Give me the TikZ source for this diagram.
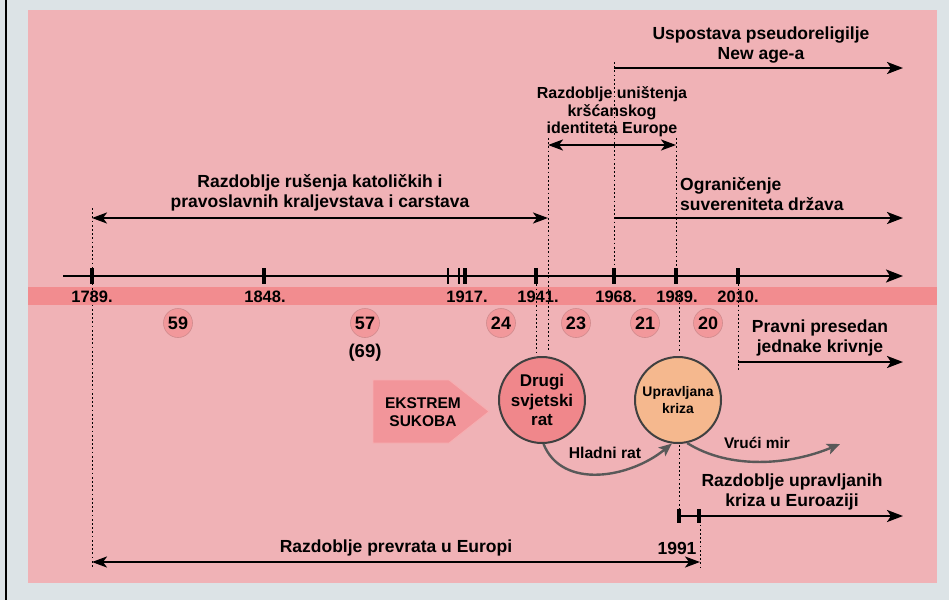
\documentclass[tikz,border=0pt]{standalone}
\usepackage{fontspec}
\setmainfont{Liberation Sans}
\usetikzlibrary{arrows.meta}
\definecolor{bgc}{HTML}{DCE3E6}
\definecolor{panel}{HTML}{F0B2B6}
\definecolor{band}{HTML}{F28C8F}
\definecolor{numfill}{HTML}{F2989B}
\definecolor{numline}{HTML}{D08A8D}
\definecolor{warfill}{HTML}{F0878B}
\definecolor{crisisfill}{HTML}{F5B88E}
\definecolor{ekfill}{HTML}{F2959A}
\definecolor{ekline}{HTML}{F7AEB1}
\definecolor{curvec}{HTML}{595959}
\begin{document}
\begin{tikzpicture}[x=1pt,y=-1pt,
  lbl/.style={font=\bfseries\fontsize{17.5}{20}\selectfont, align=center, inner sep=0pt},
  lbls/.style={font=\bfseries\fontsize{16}{17.5}\selectfont, align=center, inner sep=0pt},
  yr/.style={font=\bfseries\fontsize{16.5}{18}\selectfont, inner sep=0pt},
  num/.style={circle, minimum size=29pt, inner sep=0pt, fill=numfill, draw=numline, line width=0.6pt, font=\bfseries\fontsize{18}{19}\selectfont},
  bigc/.style={circle, minimum size=86pt, inner sep=0pt, draw=black!75, line width=2pt, align=center},
  axisline/.style={line width=2pt, -{Stealth[length=17pt,width=13pt,inset=4pt]}},
  rarr/.style={line width=2.3pt, -{Stealth[length=16pt,width=12pt,inset=4pt]}},
  darr/.style={line width=2.3pt, {Stealth[length=15pt,width=11pt,inset=4pt]}-{Stealth[length=15pt,width=11pt,inset=4pt]}},
  dots/.style={line width=1pt, dash pattern=on 1.8pt off 2.4pt},
  garr/.style={line width=2.4pt, draw=curvec, -{Stealth[length=13pt,width=11pt,inset=3pt]}},
  tickm/.style={fill=black}
]
\useasboundingbox (0,0) rectangle (949,600);
\fill[bgc] (0,0) rectangle (949,600);
\fill[panel] (28,10) rectangle (937,583);
\draw[line width=2pt] (6,0) -- (6,600);
\fill[band] (28,287) rectangle (937,305);

% dotted guide lines
\coordinate (g1a) at (92,208);  \coordinate (g1b) at (92,568);
\coordinate (g2a) at (548,138); \coordinate (g2b) at (548,352);
\coordinate (g3a) at (536,276); \coordinate (g3b) at (536,352);
\coordinate (g4a) at (614,62);  \coordinate (g4b) at (614,276);
\coordinate (g5a) at (676,138); \coordinate (g5b) at (676,276);
\coordinate (g6a) at (679,290); \coordinate (g6b) at (679,352);
\coordinate (g7a) at (679,445); \coordinate (g7b) at (679,512);
\coordinate (g8a) at (700,512); \coordinate (g8b) at (700,568);
\coordinate (g9a) at (738,276); \coordinate (g9b) at (738,370);
\foreach \i in {1,...,9} {\draw[dots] (g\i a) -- (g\i b);}

% main axis
\coordinate (axS) at (63,276);
\coordinate (axE) at (903,276);
\draw[axisline] (axS) -- (axE);
\foreach \x in {92,264,465,536,614,676,738} {\fill[tickm] (\x-2.2,268) rectangle (\x+2.2,284);}
\foreach \x in {448,459} {\fill[tickm] (\x-0.8,268) rectangle (\x+0.8,284);}

% years
\node[yr] (y1789) at (92,297) {1789.};
\node[yr] (y1848) at (265,297) {1848.};
\node[yr] (y1917) at (467,297) {1917.};
\node[yr] (y1941) at (538,297) {1941.};
\node[yr] (y1968) at (616,297) {1968.};
\node[yr] (y1989) at (677,297) {1989.};
\node[yr] (y2010) at (738,297) {2010.};

% number circles
\node[num] (n59) at (178,323) {59};
\node[num] (n57) at (365,323) {57};
\node[font=\bfseries\fontsize{18.5}{19}\selectfont, inner sep=0pt] (n69) at (365,353) {(69)};
\node[num] (n24) at (501,323) {24};
\node[num] (n23) at (576,323) {23};
\node[num] (n21) at (645,323) {21};
\node[num] (n20) at (708,323) {20};

% top arrows and labels
\node[lbl] (tUsp) at (761,45) {Uspostava pseudoreligilje\\New age-a};
\coordinate (uA) at (614,68); \coordinate (uB) at (903,68);
\draw[rarr] (uA) -- (uB);

\node[lbls] (tUni) at (612,112) {Razdoblje uništenja\\kršćanskog\\identiteta Europe};
\coordinate (kA) at (548,145); \coordinate (kB) at (676,145);
\draw[darr] (kA) -- (kB);

\node[lbl] (tRus) at (320,193) {Razdoblje rušenja katoličkih i\\pravoslavnih kraljevstava i carstava};
\coordinate (rA) at (92,218); \coordinate (rB) at (548,218);
\draw[darr] (rA) -- (rB);

\node[lbl, align=left, anchor=west] (tOgr) at (680,194) {Ograničenje\\suvereniteta država};
\coordinate (oA) at (614,218); \coordinate (oB) at (903,218);
\draw[rarr] (oA) -- (oB);

\node[lbl] (tPra) at (820,338) {Pravni presedan\\jednake krivnje};
\coordinate (pA) at (738,362); \coordinate (pB) at (903,362);
\draw[rarr] (pA) -- (pB);

% ekstrem arrow shape
\draw[fill=ekfill, draw=ekline, line width=0.8pt] (373,380) -- (449,380) -- (489,411.5) -- (449,443) -- (373,443) -- cycle;
\node[font=\bfseries\fontsize{15.5}{18}\selectfont, align=center, inner sep=0pt] (ek) at (423,412) {EKSTREM\\SUKOBA};

% big circles
\node[bigc, fill=warfill, font=\bfseries\fontsize{17}{19.5}\selectfont] (ww2) at (542,400) {Drugi\\svjetski\\rat};
\node[bigc, fill=crisisfill, font=\bfseries\fontsize{13.9}{17}\selectfont] (uk) at (678,400) {Upravljana\\kriza};

% curves
\draw[garr] (ww2.272) .. controls (562,490) and (630,478) .. (uk.262);
\node[font=\bfseries\fontsize{15.7}{18}\selectfont, inner sep=0pt] (tHl) at (605,453) {Hladni rat};
\coordinate (vEnd) at (840,444);
\draw[garr] (uk.282) .. controls (730,470) and (790,465) .. (vEnd);
\node[font=\bfseries\fontsize{15.4}{18}\selectfont, inner sep=0pt] (tVm) at (757,443) {Vrući mir};

% euroazija
\node[lbl] (tEur) at (792,492) {Razdoblje upravljanih\\kriza u Euroaziji};
\coordinate (eA) at (679,516); \coordinate (eB) at (903,516);
\draw[rarr] (eA) -- (eB);
\foreach \x in {679,699} {\fill[tickm] (\x-2.2,509) rectangle (\x+2.2,523);}

% prevrat
\node[lbl] (tPrev) at (396,548) {Razdoblje prevrata u Europi};
\node[lbl] (t1991) at (677,548) {1991};
\coordinate (vA) at (92,562); \coordinate (vB) at (700,562);
\draw[darr] (vA) -- (vB);
\end{tikzpicture}
\end{document}
